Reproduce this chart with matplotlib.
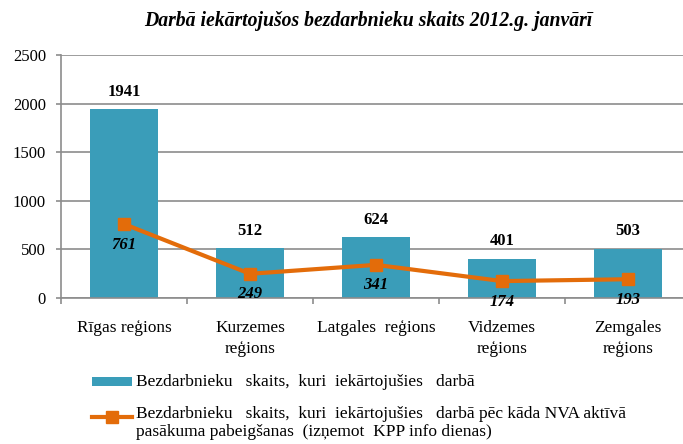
import matplotlib.pyplot as plt
from matplotlib.patches import Rectangle
from matplotlib.lines import Line2D
import numpy as np

# Chart data
regions = ["Rīgas reģions", "Kurzemes\nreģions", "Latgales  reģions", "Vidzemes\nreģions", "Zemgales\nreģions"]
employed = [1941, 512, 624, 401, 503]
employed_after_nva = [761, 249, 341, 174, 193]

legend_labels = [
    "Bezdarbnieku   skaits,  kuri  iekārtojušies   darbā",
    "Bezdarbnieku   skaits,  kuri  iekārtojušies   darbā pēc kāda NVA aktīvā\npasākuma pabeigšanas  (izņemot  KPP info dienas)",
]

BAR_COLOR = "#3A9DB9"
LINE_COLOR = "#E36C0A"
GRID_COLOR = "#8C8C8C"

W, H = 683, 444

plt.rcParams["font.family"] = ["Liberation Serif", "DejaVu Serif"]

fig = plt.figure(figsize=(W / 100, H / 100), dpi=100)
# plot area: y axis at x=61, 0 at y=298, 2500 at y=55, five 126 px wide categories
ax = fig.add_axes([61 / W, 1 - 298 / H, 630 / W, 243 / H])

x = np.arange(len(regions))
ax.bar(x, employed, width=0.54, color=BAR_COLOR, zorder=2)
ax.plot(x, employed_after_nva, color=LINE_COLOR, linewidth=3, marker="s",
        markersize=8.5, zorder=3)

# value labels
for xi, v in zip(x, employed):
    ax.annotate(str(v), (xi, v), xytext=(0, 7), textcoords="offset points",
                ha="center", va="bottom", fontsize=12, fontweight="bold")
for xi, v in zip(x, employed_after_nva):
    ax.annotate(str(v), (xi, v), xytext=(0, -9), textcoords="offset points",
                ha="center", va="top", fontsize=12, fontweight="bold", style="italic")

ax.set_xlim(-0.5, len(regions) - 0.5)
ax.set_ylim(0, 2500)
ax.set_yticks(range(0, 2501, 500))
ax.yaxis.grid(True, color=GRID_COLOR, linewidth=1.2, zorder=0)
ax.set_axisbelow(True)

# category separators as minor ticks below the axis
ax.set_xticks(x)
ax.set_xticklabels(regions, fontsize=12.4, linespacing=1.4)
ax.tick_params(axis="x", which="major", length=0, pad=16)
ax.set_xticks(np.arange(-0.5, len(regions), 1), minor=True)
ax.tick_params(axis="x", which="minor", length=4.5, color=GRID_COLOR, width=1.2)
ax.tick_params(axis="y", length=3.8, color=GRID_COLOR, width=1.2, labelsize=12, pad=7)

for side in ["top", "right"]:
    ax.spines[side].set_visible(False)
for side in ["left", "bottom"]:
    ax.spines[side].set_color(GRID_COLOR)
    ax.spines[side].set_linewidth(1.2)

fig.text(368 / W, 1 - 21 / H, "Darbā iekārtojušos bezdarbnieku skaits 2012.g. janvārī",
         ha="center", va="center", fontsize=14.2, fontweight="bold", style="italic")

# legend drawn by hand so the line marker sits next to the first text line
fig.add_artist(Rectangle((92 / W, 1 - 386 / H), 40 / W, 9 / H,
                         transform=fig.transFigure, facecolor=BAR_COLOR, edgecolor="none"))
fig.text(136 / W, 1 - 382 / H, legend_labels[0], ha="left", va="center", fontsize=12.5)

fig.add_artist(Line2D([92 / W, 132 / W], [1 - 417 / H, 1 - 417 / H], transform=fig.transFigure,
                      color=LINE_COLOR, linewidth=3))
fig.add_artist(Line2D([112 / W], [1 - 417 / H], transform=fig.transFigure,
                      color=LINE_COLOR, marker="s", markersize=8.5, linestyle="none"))
fig.text(136 / W, 1 - 406 / H, legend_labels[1], ha="left", va="top", fontsize=12.5,
         linespacing=1.2)

fig.savefig("out.png", dpi=100)
